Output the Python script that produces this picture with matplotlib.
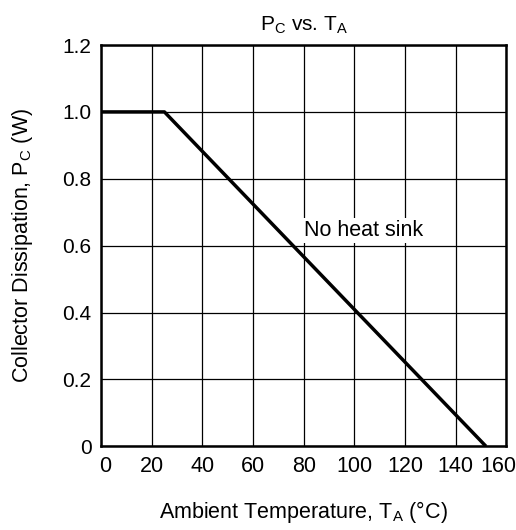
import matplotlib
matplotlib.use("Agg")
from matplotlib import pyplot as plt
from matplotlib.transforms import ScaledTranslation

plt.rcParams['font.family'] = ['Liberation Sans', 'DejaVu Sans']
plt.rcParams['mathtext.fontset'] = 'custom'
plt.rcParams['mathtext.rm'] = 'Liberation Sans'

# derating curve, no heat sink
temp = [0, 25, 152]
power = [1.0, 1.0, 0.0]

xticks = [0, 20, 40, 60, 80, 100, 120, 140, 160]
yticks = [0, 0.2, 0.4, 0.6, 0.8, 1.0, 1.2]
ylabels = ['0', '0.2', '0.4', '0.6', '0.8', '1.0', '1.2']

fig = plt.figure(figsize=(5.16, 5.30), dpi=100)
ax = fig.add_axes([0.196, 0.158, 0.785, 0.757])

ax.plot(temp, power, color='black', lw=2.5, solid_capstyle='butt', zorder=3)

ax.set_xlim(0, 160)
ax.set_ylim(0, 1.2)
ax.set_xticks(xticks)
ax.set_yticks(yticks)
ax.set_yticklabels(ylabels)
ax.tick_params(axis='x', length=0, pad=7, labelsize=15.5)
ax.tick_params(axis='y', length=0, pad=7, labelsize=15)
ax.grid(True, color='black', lw=0.9)
for s in ax.spines.values():
    s.set_linewidth(1.8)

# end labels sit a bit inward, like the original
xl = ax.get_xticklabels()
xl[0].set_transform(xl[0].get_transform() + ScaledTranslation(0.04, 0, fig.dpi_scale_trans))
xl[-1].set_transform(xl[-1].get_transform() + ScaledTranslation(-0.08, 0, fig.dpi_scale_trans))

ax.text(80, 0.645, 'No heat sink', fontsize=15.5, va='center', ha='left',
        bbox=dict(facecolor='white', edgecolor='none', pad=1.5), zorder=4)

ax.set_title(r'$\mathregular{P_C}$ vs. $\mathregular{T_A}$', fontsize=15, pad=10)
ax.set_xlabel(r'Ambient Temperature, $\mathregular{T_A}$ (°C)', fontsize=15.5, labelpad=16)
ax.set_ylabel(r'Collector Dissipation, $\mathregular{P_C}$ (W)', fontsize=15.5, labelpad=20)

fig.savefig('out.png', dpi=100)
